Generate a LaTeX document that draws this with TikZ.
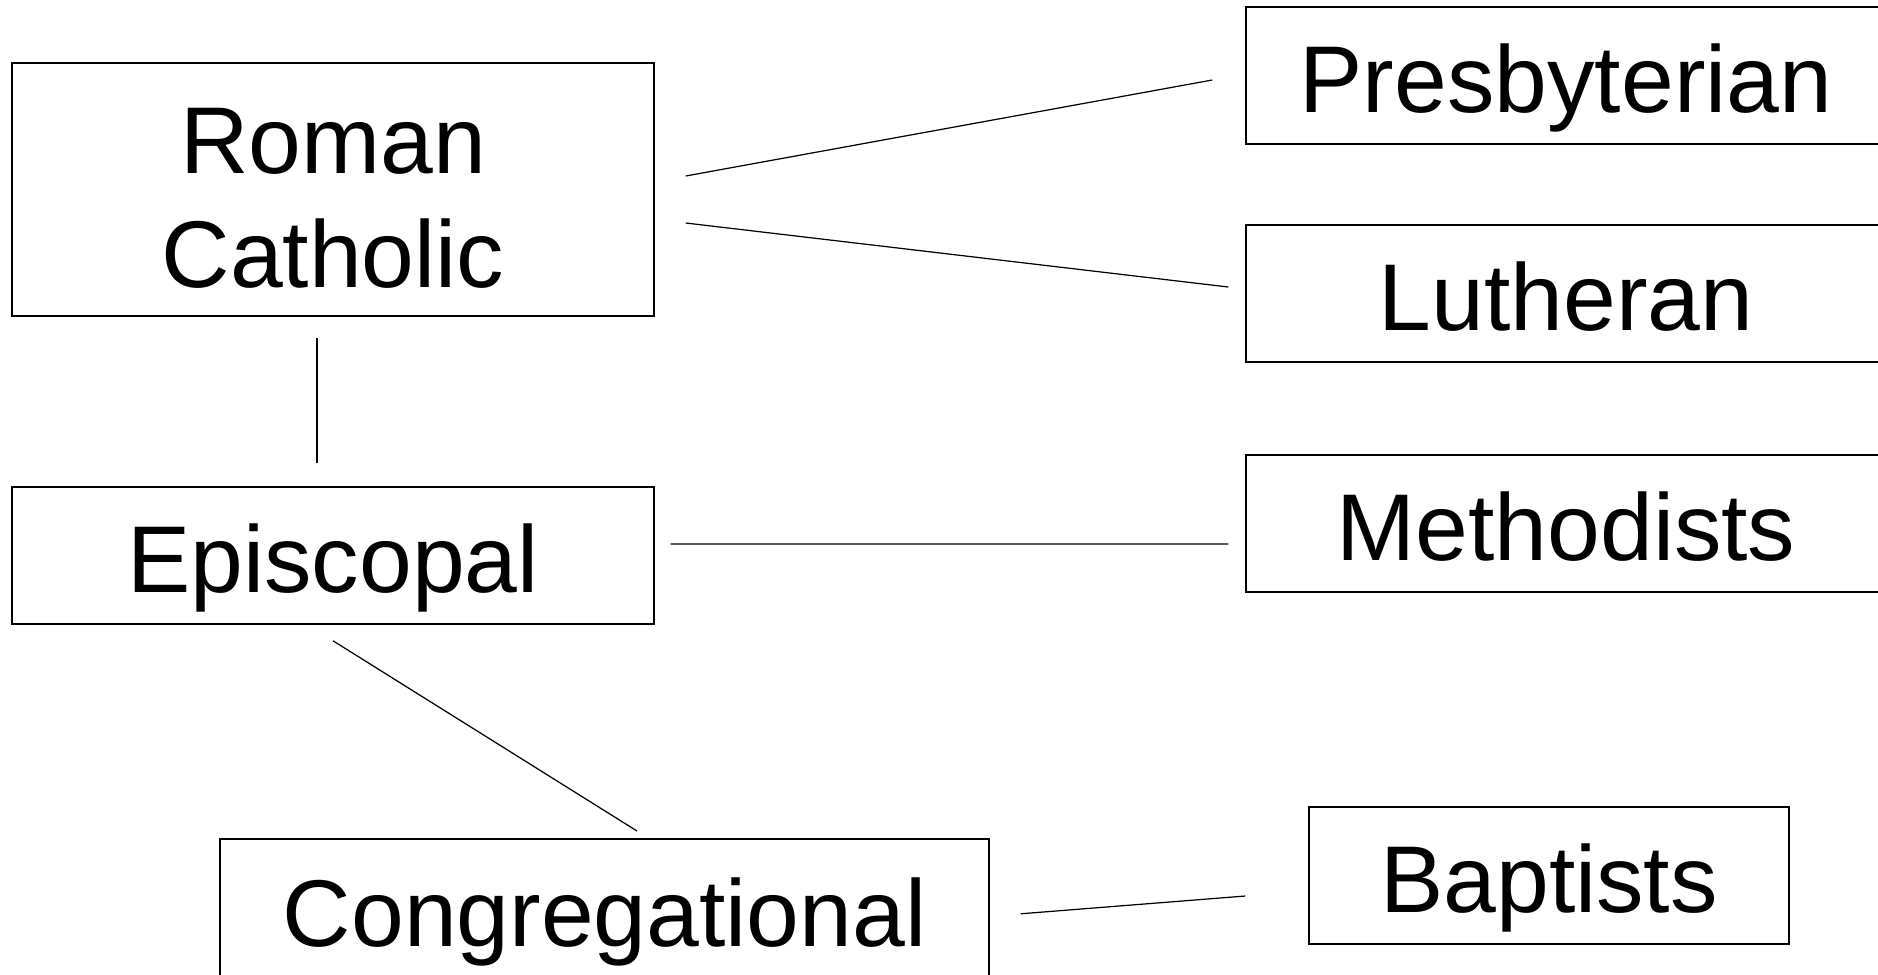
\documentclass[tikz,border=0pt]{standalone}
\usepackage{fontspec}
\setmainfont{Liberation Sans}
\usepackage{tikz}
\usetikzlibrary{positioning,calc}

\tikzset{
    box/.style={draw, line width=0.9pt, inner sep=0pt, align=center,
        font=\fontsize{54}{65}\selectfont},
    oneline/.style={box, text height=51.3pt, text depth=9.2pt},
    link/.style={line width=0.7pt}
}

\begin{document}
\begin{tikzpicture}[x=0.02cm, y=-0.02cm]
    \useasboundingbox (0,0) rectangle (1878,974);

    \node [box, minimum width=12.84cm, minimum height=5.06cm] (rc) at (333,189.5) {\rule{0pt}{47.5pt}Roman\\Catholic};
    \node [oneline, minimum width=12.84cm, minimum height=2.74cm] (epi) at (333,555.5) {Episcopal};
    \node [oneline, minimum width=15.38cm, minimum height=2.84cm, anchor=north] (cong) at (604.5,838) {Congregational};

    \node [oneline, minimum width=12.8cm, minimum height=2.74cm] (pres) at (1566,75.5) {Presbyterian};
    \node [oneline, minimum width=12.8cm, minimum height=2.74cm] (luth) at (1566,293.5) {Lutheran};
    \node [oneline, minimum width=12.8cm, minimum height=2.74cm] (meth) at (1566,523.5) {Methodists};
    \node [oneline, minimum width=9.6cm, minimum height=2.74cm] (bapt) at (1549,875.5) {Baptists};

    \draw [link] ($(rc.east)+(31,-13.5)$) -- ($(pres.west)+(-33,4.5)$);
    \draw [link] ($(rc.east)+(31,33.5)$) -- ($(luth.west)+(-17,-6.5)$);
    \draw [link] ($(rc.south)+(-16,21)$) -- ($(epi.north)+(-16,-23)$);
    \draw [link] ($(epi.east)+(16,-11.5)$) -- ($(meth.west)+(-17,20.5)$);
    \draw [link] ($(epi.south)+(0,16)$) -- ($(cong.north)+(32.5,-7)$);
    \draw [link] ($(cong.east)+(31,4)$) -- ($(bapt.west)+(-63,20.5)$);
\end{tikzpicture}
\end{document}
